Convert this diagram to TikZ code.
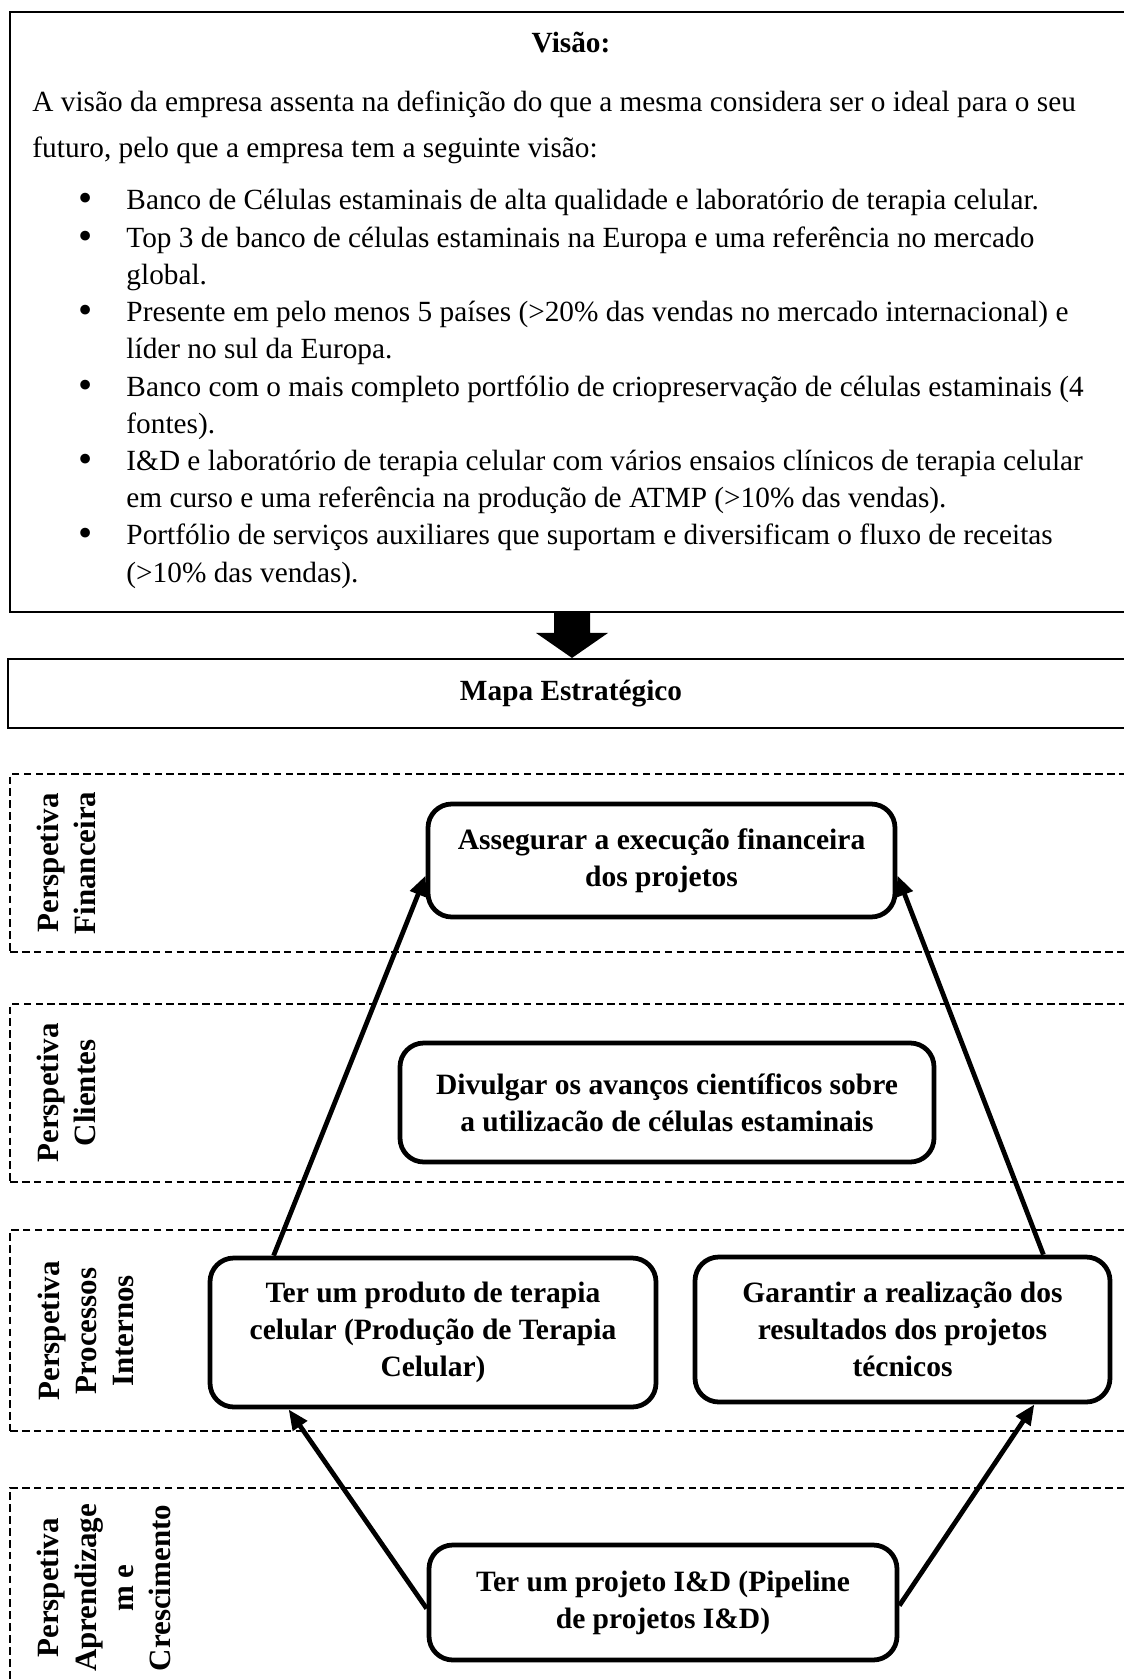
\documentclass[tikz,border=0pt]{standalone}
\usepackage{fontspec}
\setmainfont{Liberation Serif}
\usepackage{tikz}
\usetikzlibrary{arrows.meta, positioning}

\tikzset{
  sz/.style 2 args={minimum width=#1*0.42pt, minimum height=#2*0.42pt},
  frame/.style={draw, line width=0.8pt, inner sep=0pt},
  persp/.style={draw, dash pattern=on 3.2pt off 1.8pt, line width=0.6pt, inner sep=0pt},
  obj/.style={draw, line width=2pt, rounded corners=10pt, align=center, inner sep=0pt,
    font=\fontsize{12.4}{15.5}\selectfont\bfseries},
  plabel/.style={rotate=90, align=center, inner sep=0pt, font=\fontsize{13}{15.6}\selectfont\bfseries},
  txt/.style={anchor=base west, inner sep=0pt, font=\fontsize{12.3}{14}\selectfont},
  link/.style={line width=2pt, -{Triangle[length=8.5pt, width=7pt]}}
}

\begin{document}
\begin{tikzpicture}[x=0.42pt, y=-0.42pt]
  \path[use as bounding box, clip] (0,0) rectangle (1124,1679);

  % Visao
  \node[frame, sz={1124}{600}] (visao) at (572,312) {};
  \node[anchor=base, inner sep=0pt, font=\fontsize{12.3}{14}\selectfont\bfseries] (tvisao) at (571,53) {Visão:};
  \node[txt] (p1) at (32,112) {A visão da empresa assenta na definição do que a mesma considera ser o ideal para o seu};
  \node[txt] (p2) at (32,158) {futuro, pelo que a empresa tem a seguinte visão:};
  \foreach \k/\t in {0/{Banco de Células estaminais de alta qualidade e laboratório de terapia celular.},
      1/{Top 3 de banco de células estaminais na Europa e uma referência no mercado},
      2/{global.},
      3/{Presente em pelo menos 5 países (>20\% das vendas no mercado internacional) e},
      4/{líder no sul da Europa.},
      5/{Banco com o mais completo portfólio de criopreservação de células estaminais (4},
      6/{fontes).},
      7/{I\&D e laboratório de terapia celular com vários ensaios clínicos de terapia celular},
      8/{em curso e uma referência na produção de ATMP (>10\% das vendas).},
      9/{Portfólio de serviços auxiliares que suportam e diversificam o fluxo de receitas},
      10/{(>10\% das vendas).}}
    \node[txt] (l\k) at (126,{210+37.2*\k}) {\t};
  \foreach \k in {0,1,3,5,7,9}
    \node[txt, anchor=base, font=\fontsize{17}{14}\selectfont] (b\k) at (86,{212+37.2*\k}) {\textbullet};

  % Mapa
  \fill (visao.south) ++(-18,0) -- ++(36,0) -- ++(0,20) -- ++(18,0) -- ++(-36,25)
    -- ++(-36,-25) -- ++(18,0) -- cycle;
  \node[frame, sz={1126}{69}, font=\fontsize{12.3}{14}\selectfont\bfseries] (mapa) at (571,693.5) {Mapa Estratégico};

  % perspetivas
  \node[persp, sz={1124}{178}] (pfin) at (572,863) {};
  \node[persp, sz={1124}{178}] (pcli) at (572,1093) {};
  \node[persp, sz={1124}{201}] (pproc) at (572,1330.5) {};
  \node[persp, sz={1124}{212}] (papr) at (572,1594) {};
  \node[plabel] (lfin) at (66,863) {Perspetiva\\Financeira};
  \node[plabel] (lcli) at (66,1093) {Perspetiva\\Clientes};
  \node[plabel] (lproc) at (86,1331) {Perspetiva\\Processos\\Internos};
  \node[plabel] (lapr) at (104,1588) {Perspetiva\\Aprendizage\\m e\\Crescimento};

  % objetivos
  \node[obj, sz={467}{113}] (fin) at (661.5,860.5) {Assegurar a execução financeira\\dos projetos};
  \node[obj, sz={534}{119}] (cli) at (667,1102.5) {Divulgar os avanços científicos sobre\\a utilizacão de células estaminais};
  \node[obj, sz={446}{149}] (prod) at (433,1332.5) {Ter um produto de terapia\\celular (Produção de Terapia\\Celular)};
  \node[obj, sz={415}{145}] (res) at (902.5,1329.5) {Garantir a realização dos\\resultados dos projetos\\técnicos};
  \node[obj, sz={468}{115}] (rnd) at (663,1602.5) {Ter um projeto I\&D (Pipeline\\de projetos I\&D)};

  \draw[link] ([shift={(66,0)}]prod.north west) -- ([shift={(0,15)}]fin.west);
  \draw[link] ([shift={(-69,0)}]res.north east) -- ([shift={(0,15)}]fin.east);
  \draw[link] ([shift={(0,6)}]rnd.west) -- ([shift={(81,0)}]prod.south west);
  \draw[link] ([shift={(0,3)}]rnd.east) -- ([shift={(-78,0)}]res.south east);
\end{tikzpicture}
\end{document}
